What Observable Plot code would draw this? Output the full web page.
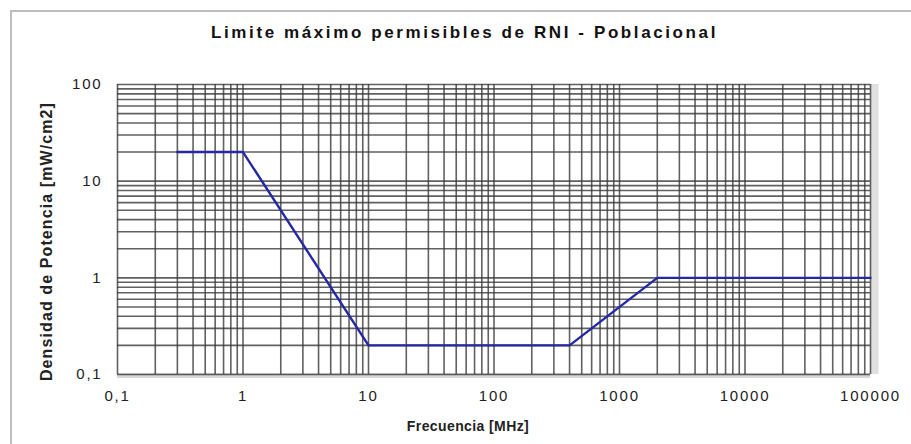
<!DOCTYPE html>
<html>
<head>
<meta charset="utf-8">
<script src="https://cdn.jsdelivr.net/npm/d3@7"></script>
<script src="https://cdn.jsdelivr.net/npm/@observablehq/plot@0.6"></script>
<style>
  html, body { margin: 0; padding: 0; background: #fff; }
  #wrap { position: relative; width: 911px; height: 444px; overflow: hidden; font-family: "Liberation Sans", Arial, sans-serif; }
  #border { position: absolute; left: 10px; top: 10px; width: 940px; height: 460px; border-left: 2px solid #bdbdbd; border-top: 2px solid #bdbdbd; pointer-events: none; }
  #title { position: absolute; left: 0; top: 0; width: 911px; height: 60px; text-align: center; line-height: 66px; font-weight: bold; font-size: 17px; letter-spacing: 2.6px; color: #111; padding-left: 18px; box-sizing: border-box; }
  #chart { position: absolute; left: 0; top: 60px; }
</style>
</head>
<body>
<div id="wrap">
  <div id="title">Limite máximo permisibles de RNI - Poblacional</div>
  <div id="chart"></div>
  <div id="border"></div>
</div>
<script>
// Data
const freq = [0.3, 1, 10, 400, 2000, 100000];        // MHz
const density = [20, 20, 0.2, 0.2, 1, 1];            // mW/cm2

const xTicks = [0.1, 1, 10, 100, 1000, 10000, 100000];
const xTickLabels = ["0,1", "1", "10", "100", "1000", "10000", "100000"];
const yTicks = [0.1, 1, 10, 100];
const yTickLabels = ["0,1", "1", "10", "100"];

const data = freq.map((f, i) => ({f, d: density[i]}));

const xGrid = d3.scaleLog().domain([0.1, 100000]).ticks(30);
const yGrid = d3.scaleLog().domain([0.1, 100]).ticks(30);

const chart = Plot.plot({
  width: 911,
  height: 384,
  marginTop: 24,
  marginLeft: 117,
  marginRight: 41,
  marginBottom: 70,
  style: { fontFamily: "Liberation Sans, Arial, sans-serif", background: "transparent" },
  x: { type: "log", domain: [0.1, 100000] },
  y: { type: "log", domain: [0.1, 100] },
  marks: [
    Plot.ruleX([100000], { stroke: "#e0e0e0", strokeWidth: 8, dx: 4 }),
    Plot.ruleY([0.1], { stroke: "#d8d8d8", strokeWidth: 5, dy: 1 }),
    Plot.gridX(xGrid, { stroke: "#3a3a3a", strokeOpacity: 0.8, strokeWidth: 1.6 }),
    Plot.gridY(yGrid, { stroke: "#3a3a3a", strokeOpacity: 0.8, strokeWidth: 1.6 }),
    Plot.axisX(xTicks, {
      tickSize: 0, tickPadding: 16, fontSize: 15, fill: "#222",
      tickFormat: (d) => xTickLabels[xTicks.indexOf(d)],
      label: "Frecuencia [MHz]", labelAnchor: "center", labelArrow: "none",
      labelOffset: 50
    }),
    Plot.axisY(yTicks, {
      tickSize: 0, tickPadding: 15, fontSize: 15, fill: "#222",
      tickFormat: (d) => yTickLabels[yTicks.indexOf(d)],
      label: "Densidad de Potencia [mW/cm2]", labelAnchor: "center", labelArrow: "none",
      labelOffset: 77
    }),
    Plot.line(data, { x: "f", y: "d", stroke: "#2428a4", strokeWidth: 2.4 })
  ]
});

function shift(g, dx, dy) {
  const t = g.getAttribute("transform") || "";
  g.setAttribute("transform", `translate(${dx},${dy}) ${t}`);
}
// tick label spacing
chart.querySelectorAll("g[aria-label='x-axis tick label'] text, g[aria-label='y-axis tick label'] text").forEach(t => {
  t.setAttribute("letter-spacing", "1.8");
});
// bold axis labels
chart.querySelectorAll("g[aria-label='x-axis label'] text").forEach(t => {
  t.setAttribute("font-weight", "bold");
  t.setAttribute("font-size", "14");
  t.setAttribute("letter-spacing", "0.4");
});
chart.querySelectorAll("g[aria-label='x-axis label']").forEach(g => shift(g, -26, 6));
chart.querySelectorAll("g[aria-label='y-axis label'] text").forEach(t => {
  t.setAttribute("font-weight", "bold");
  t.setAttribute("font-size", "16");
  t.setAttribute("letter-spacing", "1.1");
});
chart.querySelectorAll("g[aria-label='y-axis label']").forEach(g => shift(g, 0, 12));
document.getElementById("chart").appendChild(chart);
</script>
</body>
</html>
